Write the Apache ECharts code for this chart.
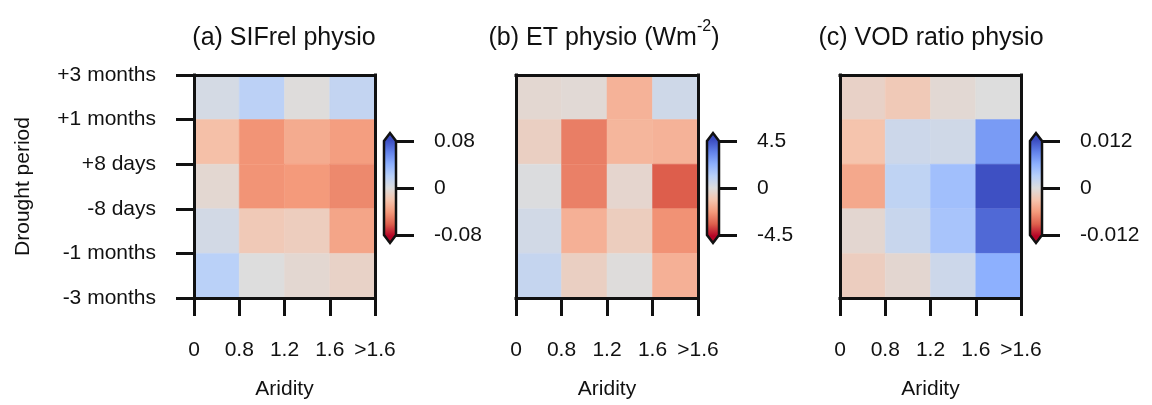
<!DOCTYPE html>
<html><head><meta charset="utf-8">
<script src="https://cdn.jsdelivr.net/npm/echarts@6/dist/echarts.min.js"></script>
<style>html,body{margin:0;padding:0;background:#fff}#c{width:1152px;height:405px}</style>
</head><body><div id="c"></div>
<script>
// ---- data ----
const xTickLabels = ['0', '0.8', '1.2', '1.6', '>1.6'];
const yTickLabels = ['+3 months', '+1 months', '+8 days', '-8 days', '-1 months', '-3 months'];
const panelTitles = ['(a) SIFrel physio', '(b) ET physio (Wm{sup|-2})', '(c) VOD ratio physio'];
const colorLimits = [0.08, 4.5, 0.012];
// rows from top (+3..+1 months) to bottom (-1..-3 months), columns by aridity bin
const sifRelPhysio = [
  [0.005, 0.018, -0.001, 0.014],
  [-0.022, -0.042, -0.032, -0.038],
  [-0.005, -0.042, -0.040, -0.046],
  [0.006, -0.016, -0.013, -0.035],
  [0.019, 0.000, -0.005, -0.009]
];
const etPhysio = [
  [-0.27, -0.18, -1.6, 0.45],
  [-0.63, -2.8, -1.5, -1.6],
  [0.05, -2.75, -0.36, -3.4],
  [0.36, -1.65, -0.72, -2.4],
  [0.72, -0.63, -0.05, -1.65]
];
const vodRatioPhysio = [
  [-0.0014, -0.0024, -0.0006, 0.0],
  [-0.0030, 0.0014, 0.0011, 0.0074],
  [-0.0050, 0.0024, 0.0046, 0.0118],
  [-0.0008, 0.0017, 0.0041, 0.0104],
  [-0.0019, -0.0008, 0.0014, 0.0060]
];
const panels = [sifRelPhysio, etPhysio, vodRatioPhysio];
// coolwarm colormap stops (low -> high)
const coolwarm = ['#3b4cc0', '#6282ea', '#8db0fe', '#b8d0f9', '#dddddd', '#f5c4ad', '#f49a7b', '#de604d', '#b40426'];
const coolwarmR = coolwarm.slice().reverse(); // negative = red, positive = blue

// ---- layout ----
const FONT = '"Liberation Sans", Arial, sans-serif';
const INK = '#111';
const FS = 21;
const layout = [
  {left: 194, width: 181, cb: 384, title: 284},
  {left: 516, width: 182, cb: 707, title: 604},
  {left: 840, width: 181, cb: 1030, title: 931}
];
const TOP = 75, HEIGHT = 224, CB_TOP = 141, CB_H = 94, CB_W = 12;

const grid = [], xAxis = [], yAxis = [], series = [], visualMap = [], graphic = [];
panels.forEach((vals, p) => {
  const L = layout[p], R = colorLimits[p];
  const gMain = grid.length;
  grid.push({left: L.left, width: L.width, top: TOP, height: HEIGHT});
  const gCb = grid.length;
  grid.push({left: L.cb, width: CB_W, top: CB_TOP, height: CB_H});
  const axLine = {show: true, onZero: false, lineStyle: {color: INK, width: 3, cap: 'square'}};
  const tick = {show: true, length: 18, lineStyle: {color: INK, width: 3}};
  // main x axis (bottom)
  const xMain = xAxis.length;
  xAxis.push({gridIndex: gMain, type: 'value', min: 0, max: 4, interval: 1, position: 'bottom', z: 5,
    axisLine: axLine, axisTick: tick, splitLine: {show: false},
    axisLabel: {margin: 42, fontSize: FS, color: INK, fontFamily: FONT, formatter: v => xTickLabels[v]},
    name: 'Aridity', nameLocation: 'middle', nameGap: 81,
    nameTextStyle: {fontSize: FS, color: INK, fontFamily: FONT}});
  xAxis.push({gridIndex: gMain, type: 'value', min: 0, max: 4, position: 'top', z: 5,
    axisLine: axLine, axisTick: {show: false}, axisLabel: {show: false}, splitLine: {show: false}});
  const xCb = xAxis.length;
  xAxis.push({gridIndex: gCb, type: 'value', min: 0, max: 1, show: false});
  // main y axis (left)
  const yMain = yAxis.length;
  yAxis.push({gridIndex: gMain, type: 'value', min: 0, max: 5, interval: 1, position: 'left', z: 5,
    axisLine: axLine, splitLine: {show: false},
    axisTick: p === 0 ? tick : {show: false},
    axisLabel: p === 0 ? {margin: 38, fontSize: FS, color: INK, fontFamily: FONT, formatter: v => yTickLabels[5 - v]} : {show: false},
    name: p === 0 ? 'Drought period' : '', nameLocation: 'middle', nameGap: 160,
    nameTextStyle: {fontSize: FS, color: INK, fontFamily: FONT}});
  yAxis.push({gridIndex: gMain, type: 'value', min: 0, max: 5, position: 'right', z: 5,
    axisLine: axLine, axisTick: {show: false}, axisLabel: {show: false}, splitLine: {show: false}});
  const yCb = yAxis.length;
  yAxis.push({gridIndex: gCb, type: 'value', min: -R, max: R, interval: R, position: 'right', z: 5,
    axisLine: {show: false, onZero: false}, splitLine: {show: false},
    axisTick: {show: true, length: 18, lineStyle: {color: INK, width: 3}},
    axisLabel: {margin: 38, fontSize: FS, color: INK, fontFamily: FONT}});
  // cells
  const data = [];
  vals.forEach((row, r) => row.forEach((v, c) => data.push([c, 4 - r, v])));
  const sIdx = series.length;
  series.push({type: 'custom', xAxisIndex: xMain, yAxisIndex: yMain, z: 1,
    encode: {x: 0, y: 1}, data: data,
    renderItem: (params, api) => {
      const x = api.value(0), y = api.value(1);
      const a = api.coord([x, y + 1]), b = api.coord([x + 1, y]);
      return {type: 'rect', shape: {x: a[0], y: a[1], width: b[0] - a[0], height: b[1] - a[1]},
        style: {fill: api.visual('color'), stroke: api.visual('color'), lineWidth: 0.5}};
    }});
  visualMap.push({type: 'continuous', show: false, seriesIndex: sIdx, dimension: 2,
    min: -R, max: R, inRange: {color: coolwarmR}});
  // colorbar
  series.push({type: 'custom', xAxisIndex: xCb, yAxisIndex: yCb, z: 3, silent: true,
    data: [[0, 0]],
    renderItem: (params, api) => {
      const tl = api.coord([0, R]), br = api.coord([1, -R]);
      const tip = 8, xl = tl[0], xr = br[0], xm = (xl + xr) / 2, yt = tl[1], yb = br[1];
      const total = (yb - yt) + 2 * tip;
      const stops = [{offset: 0, color: coolwarm[0]}];
      coolwarm.forEach((c, i) => stops.push({offset: (tip + (yb - yt) * i / (coolwarm.length - 1)) / total, color: c}));
      stops.push({offset: 1, color: coolwarm[coolwarm.length - 1]});
      return {type: 'polygon',
        shape: {points: [[xl, yt], [xm, yt - tip], [xr, yt], [xr, yb], [xm, yb + tip], [xl, yb]]},
        style: {fill: new echarts.graphic.LinearGradient(0, 0, 0, 1, stops), stroke: INK, lineWidth: 2.5, lineJoin: 'miter'}};
    }});
  // title
  graphic.push({type: 'text', x: L.title, y: 38, z: 10,
    style: {text: panelTitles[p], fill: INK, font: '25px ' + FONT, align: 'center', verticalAlign: 'middle',
      rich: {sup: {fontSize: 16, fontFamily: FONT, fill: INK, padding: [0, 0, 22, 0]}}}});
});

const chart = echarts.init(document.getElementById('c'), null, {renderer: 'canvas'});
chart.setOption({animation: false, backgroundColor: '#fff', textStyle: {fontFamily: FONT},
  grid, xAxis, yAxis, visualMap, series, graphic});
</script></body></html>
